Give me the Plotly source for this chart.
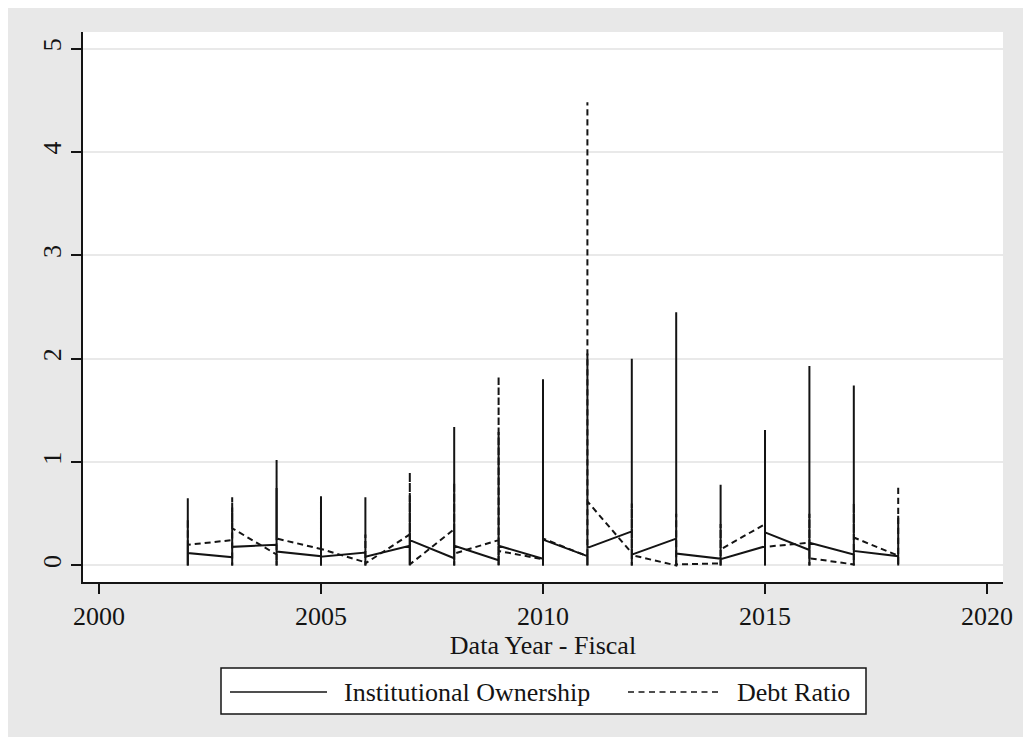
import plotly.graph_objects as go

# ---------------- data ----------------
years = [2002, 2003, 2004, 2005, 2006, 2007, 2008, 2009, 2010,
         2011, 2012, 2013, 2014, 2015, 2016, 2017, 2018]

# Institutional Ownership: value entering the year, spike top, value leaving the year
io_first = [0.12, 0.08, 0.20, 0.09, 0.125, 0.19, 0.07, 0.05, 0.065,
            0.09, 0.33, 0.26, 0.065, 0.185, 0.15, 0.105, 0.09]
io_peak = [0.65, 0.56, 0.75, 0.62, 0.66, 0.68, 1.34, 1.29, 1.80,
           2.05, 2.00, 2.45, 0.78, 1.31, 1.93, 1.74, 0.48]
io_last = [0.12, 0.18, 0.135, 0.085, 0.085, 0.245, 0.19, 0.19, 0.25,
           0.17, 0.105, 0.115, 0.06, 0.32, 0.22, 0.14, 0.09]

# Debt Ratio
dr_first = [0.20, 0.245, 0.106, 0.16, 0.03, 0.30, 0.35, 0.245, 0.06,
            0.09, 0.12, 0.00, 0.02, 0.40, 0.22, 0.01, 0.095]
dr_peak = [0.45, 0.66, 1.02, 0.67, 0.30, 0.90, 0.80, 1.83, 0.70,
           4.48, 0.60, 0.50, 0.40, 0.60, 0.50, 0.60, 0.77]
dr_last = [0.20, 0.36, 0.26, 0.16, 0.02, 0.01, 0.115, 0.14, 0.26,
           0.62, 0.10, 0.01, 0.155, 0.18, 0.07, 0.27, 0.095]
spike_base = 0.0

x_ticks = [2000, 2005, 2010, 2015, 2020]
y_ticks = [0, 1, 2, 3, 4, 5]
x_title = "Data Year - Fiscal"
legend_labels = ["Institutional Ownership", "Debt Ratio"]


def build(first, peak, last):
    xs, ys = [], []
    for yr, f, p, l in zip(years, first, peak, last):
        xs += [yr, yr, yr, yr]
        ys += [f, spike_base, p, l]
    return xs, ys


INK = "#141414"
FONT = "Liberation Serif"
OFF = 8                      # page body margin
W, H = 1021, 729             # figure size
L, R, T, B = 83 - OFF, 1003 - OFF, 32 - OFF, 582 - OFF  # plot area (figure px)


def px(xp):  # screen pixel -> paper fraction
    return (xp - OFF - L) / (R - L)


def py(yp):
    return (B - (yp - OFF)) / (B - T)


fig = go.Figure()
ix, iy = build(io_first, io_peak, io_last)
dx, dy = build(dr_first, dr_peak, dr_last)
fig.add_trace(go.Scatter(x=ix, y=iy, mode="lines", name=legend_labels[0],
                         line=dict(color=INK, width=2), showlegend=False))
fig.add_trace(go.Scatter(x=dx, y=dy, mode="lines", name=legend_labels[1],
                         line=dict(color=INK, width=2, dash="6px,4px"),
                         showlegend=False))

shapes = [
    # legend box
    dict(type="rect", xref="paper", yref="paper",
         x0=px(221), x1=px(866), y0=py(714), y1=py(668),
         fillcolor="white", line=dict(color=INK, width=1.5)),
    dict(type="line", xref="paper", yref="paper",
         x0=px(230), x1=px(327), y0=py(692), y1=py(692),
         line=dict(color=INK, width=1.3)),
    dict(type="line", xref="paper", yref="paper",
         x0=px(628), x1=px(722), y0=py(692), y1=py(692),
         line=dict(color=INK, width=1.3, dash="6px,4.5px")),
]

annotations = [
    dict(xref="paper", yref="paper", x=px(342), y=py(692), xanchor="left",
         yanchor="middle", text=legend_labels[0], showarrow=False,
         font=dict(family=FONT, size=26, color=INK)),
    dict(xref="paper", yref="paper", x=px(735), y=py(692), xanchor="left",
         yanchor="middle", text=legend_labels[1], showarrow=False,
         font=dict(family=FONT, size=26, color=INK)),
]

fig.update_layout(
    width=W, height=H,
    margin=dict(l=L, r=W - R, t=T, b=H - B, pad=0),
    paper_bgcolor="#e8e8e8",
    plot_bgcolor="white",
    font=dict(family=FONT, size=26, color=INK),
    shapes=shapes,
    annotations=annotations,
    xaxis=dict(
        range=[1999.64, 2020.36], tickmode="array", tickvals=x_ticks,
        ticks="outside", ticklen=10, tickwidth=1.5, tickcolor=INK,
        showline=True, linecolor=INK, linewidth=1.5,
        showgrid=False, zeroline=False,
        tickfont=dict(family=FONT, size=26, color=INK),
        title=dict(text=x_title, standoff=0,
                   font=dict(family=FONT, size=26, color=INK)),
    ),
    yaxis=dict(
        range=[-0.16, 5.16], tickmode="array", tickvals=y_ticks,
        ticks="outside", ticklen=10, tickwidth=1.5, tickcolor=INK,
        tickangle=-90,
        showline=True, linecolor=INK, linewidth=1.5,
        showgrid=True, gridcolor="#e9e9e9", gridwidth=1.6,
        zeroline=False,
        tickfont=dict(family=FONT, size=26, color=INK),
    ),
)

fig.write_html("out.html")
